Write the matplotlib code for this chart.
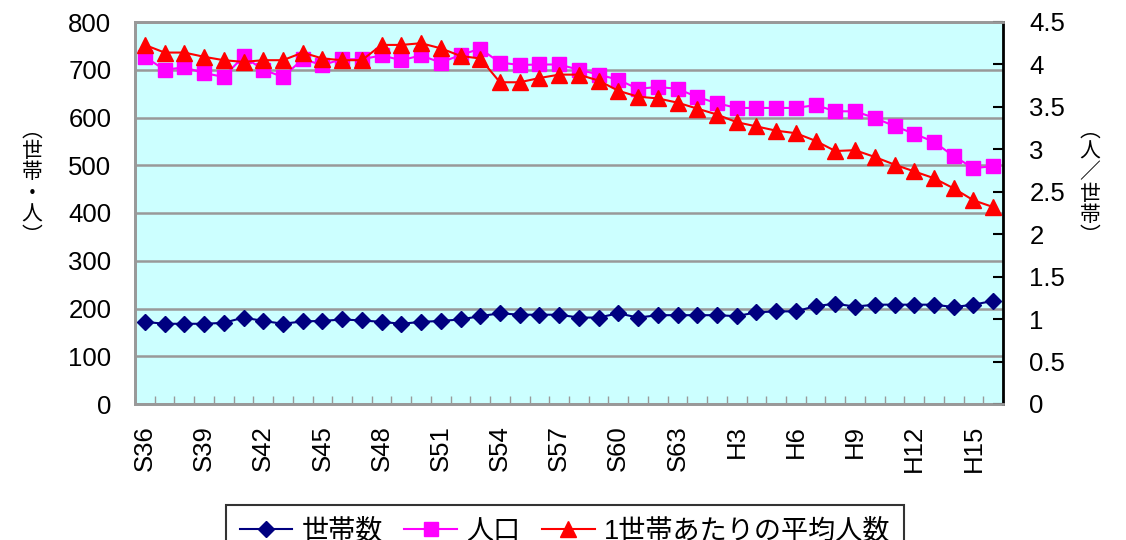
# --------------------------------------
# 世帯数・人口・1世帯あたりの平均人数の推移
# --------------------------------------
import matplotlib
matplotlib.use("Agg")
import matplotlib.pyplot as plt
import numpy as np

plt.rcParams['font.family'] = ['Liberation Sans', 'Noto Sans CJK JP', 'DejaVu Sans']

# データ準備 ----------------------------
# S36 (1961) ～ H16 (2004)
years = ["S36", "S37", "S38", "S39", "S40", "S41", "S42", "S43", "S44", "S45",
         "S46", "S47", "S48", "S49", "S50", "S51", "S52", "S53", "S54", "S55",
         "S56", "S57", "S58", "S59", "S60", "S61", "S62", "S63", "H1", "H2",
         "H3", "H4", "H5", "H6", "H7", "H8", "H9", "H10", "H11", "H12",
         "H13", "H14", "H15", "H16"]

households = [172, 168, 168, 168, 170, 181, 174, 168, 173, 174,
              177, 175, 172, 168, 172, 174, 177, 184, 190, 187,
              187, 187, 181, 181, 190, 181, 186, 186, 186, 186,
              184, 192, 194, 194, 205, 210, 204, 208, 208, 208,
              208, 203, 208, 216]

population = [727, 700, 705, 693, 685, 728, 700, 685, 722, 710,
              722, 722, 730, 720, 730, 715, 731, 744, 715, 710,
              711, 711, 700, 690, 679, 660, 664, 660, 643, 630,
              620, 620, 620, 620, 626, 613, 613, 599, 582, 566,
              549, 519, 494, 498]

avg_size = [4.23, 4.14, 4.14, 4.09, 4.05, 4.03, 4.05, 4.05, 4.14, 4.07,
            4.05, 4.05, 4.23, 4.23, 4.25, 4.19, 4.10, 4.07, 3.79, 3.79,
            3.84, 3.88, 3.88, 3.81, 3.69, 3.62, 3.60, 3.55, 3.48, 3.41,
            3.32, 3.27, 3.22, 3.19, 3.10, 2.98, 2.99, 2.91, 2.82, 2.74,
            2.66, 2.54, 2.40, 2.32]

left_ticks = [0, 100, 200, 300, 400, 500, 600, 700, 800]
right_ticks = [0, 0.5, 1, 1.5, 2, 2.5, 3, 3.5, 4, 4.5]
right_labels = ["0", "0.5", "1", "1.5", "2", "2.5", "3", "3.5", "4", "4.5"]

# グラフ ---------------------------------
fig = plt.figure(figsize=(11.26, 5.4), dpi=100)
ax = fig.add_axes([135 / 1126, 136 / 540, 868 / 1126, 382 / 540])
ax2 = ax.twinx()

x = np.arange(len(years))
fs = 18.5

ax.set_facecolor("#CCFFFF")
l1, = ax.plot(x, households, color="#000080", marker="D", markersize=8,
              linewidth=1.5, label="世帯数")
l2, = ax.plot(x, population, color="#FF00FF", marker="s", markersize=10,
              linewidth=1.5, label="人口")
l3, = ax2.plot(x, avg_size, color="#FF0000", marker="^", markersize=11.5,
               linewidth=1.5, label="1世帯あたりの平均人数")

ax.set_xlim(-0.5, len(years) - 0.5)
ax.set_ylim(0, 800)
ax2.set_ylim(0, 4.5)

# 左軸
ax.set_yticks(left_ticks)
ax.tick_params(axis="y", length=0, labelsize=fs, pad=17)
ax.grid(axis="y", color="#999999", linewidth=1.8)
ax.set_axisbelow(True)

# 右軸
ax2.set_yticks(right_ticks)
ax2.set_yticklabels(right_labels)
ax2.tick_params(axis="y", direction="in", length=7, width=1.5,
                color="black", labelsize=fs, pad=19)

# x 軸
ax.set_xticks(x[::3])
ax.set_xticklabels(years[::3], rotation=90, fontsize=fs)
ax.tick_params(axis="x", length=0, pad=15)
ax.set_xticks(np.arange(-0.5, len(years), 1), minor=True)
ax.tick_params(axis="x", which="minor", direction="in", length=6,
               color="#999999", width=1)

for name in ["left", "top", "bottom"]:
    ax.spines[name].set_color("#999999")
    ax.spines[name].set_linewidth(2)
    ax2.spines[name].set_color("#999999")
    ax2.spines[name].set_linewidth(2)
ax2.spines["right"].set_color("black")
ax2.spines["right"].set_linewidth(2)

# 軸ラベル (縦書き)
fig.text(32 / 1126, 1 - 183 / 540, "︵\n世\n帯\n・\n人\n︶", fontsize=15,
         family="Noto Sans CJK JP", ha="center", va="center", linespacing=0.95)
fig.text(1090 / 1126, 1 - 183 / 540, "︵\n人\n／\n世\n帯\n︶", fontsize=15,
         family="Noto Sans CJK JP", ha="center", va="center", linespacing=0.95)

# 凡例
leg = fig.legend(handles=[l1, l2, l3], loc="upper left",
                 bbox_to_anchor=(226 / 1126, 1 - 505 / 540), ncol=3,
                 fontsize=19.5, frameon=True, fancybox=False, borderaxespad=0,
                 edgecolor="black", handlelength=1.95, columnspacing=0.8,
                 handletextpad=0.33, borderpad=0.5)
leg.get_frame().set_linewidth(1.5)

plt.savefig("out.png", dpi=100)
